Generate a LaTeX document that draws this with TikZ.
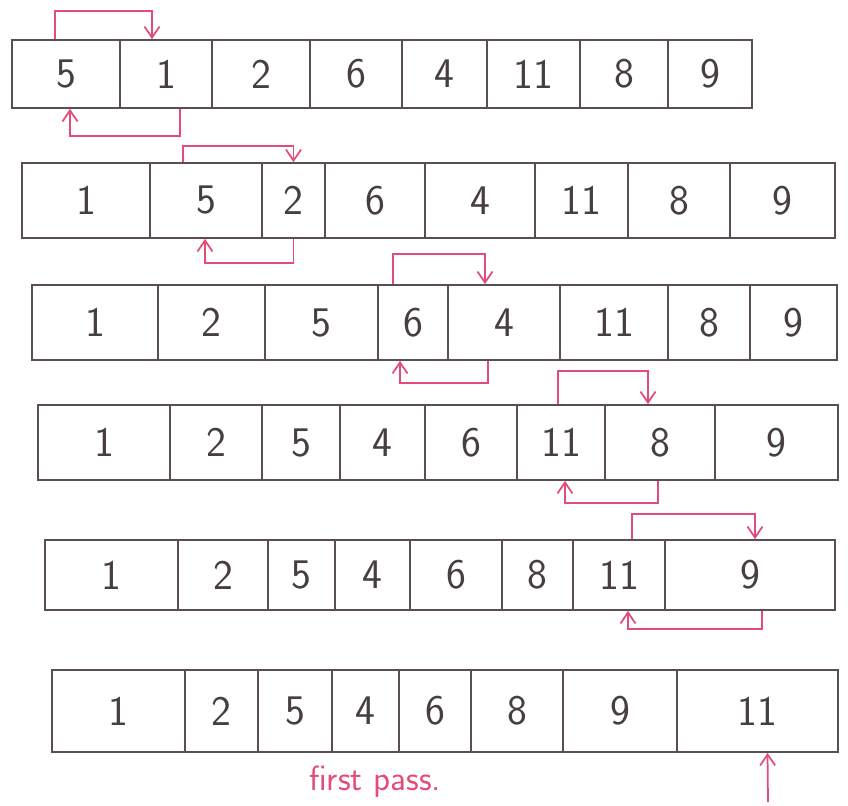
\documentclass[tikz,border=0pt]{standalone}
\usetikzlibrary{arrows.meta, calc}
\definecolor{ink}{RGB}{88,78,84}
\definecolor{pen}{RGB}{228,76,120}

\begin{document}
\begin{tikzpicture}[x=0.02cm, y=-0.02cm, font=\sffamily\fontsize{24}{28}\selectfont,
  cell/.style={draw=ink, line width=1pt, inner sep=0pt, text=ink!80!black},
  swp/.style={draw=pen, line width=1pt, -{Straight Barb[length=2.2mm, width=3mm]}}]

\useasboundingbox (0,0) rectangle (848,805);

% row 1 : 5 1 2 6 4 11 8 9
\foreach \xa/\xb/\v [count=\i] in {12/120/5, 120/212/1, 212/310/2, 310/402/6, 402/487/4, 487/580/11, 580/668/8, 668/752/9}
  \node[cell, minimum width={(\xb-\xa)*0.02cm}, minimum height=1.36cm] (r1c\i) at ({(\xa+\xb)/2},74) {\v};

% row 2 : 1 5 2 6 4 11 8 9
\foreach \xa/\xb/\v [count=\i] in {22/150/1, 150/262/5, 262/325/2, 325/425/6, 425/535/4, 535/628/11, 628/730/8, 730/835/9}
  \node[cell, minimum width={(\xb-\xa)*0.02cm}, minimum height=1.5cm] (r2c\i) at ({(\xa+\xb)/2},200.5) {\v};

% row 3 : 1 2 5 6 4 11 8 9
\foreach \xa/\xb/\v [count=\i] in {32/158/1, 158/265/2, 265/378/5, 378/448/6, 448/560/4, 560/668/11, 668/750/8, 750/837/9}
  \node[cell, minimum width={(\xb-\xa)*0.02cm}, minimum height=1.5cm] (r3c\i) at ({(\xa+\xb)/2},322.5) {\v};

% row 4 : 1 2 5 4 6 11 8 9
\foreach \xa/\xb/\v [count=\i] in {38/170/1, 170/262/2, 262/340/5, 340/425/4, 425/517/6, 517/605/11, 605/715/8, 715/838/9}
  \node[cell, minimum width={(\xb-\xa)*0.02cm}, minimum height=1.5cm] (r4c\i) at ({(\xa+\xb)/2},442.5) {\v};

% row 5 : 1 2 5 4 6 8 11 9
\foreach \xa/\xb/\v [count=\i] in {45/178/1, 178/268/2, 268/335/5, 335/410/4, 410/502/6, 502/573/8, 573/665/11, 665/835/9}
  \node[cell, minimum width={(\xb-\xa)*0.02cm}, minimum height=1.4cm] (r5c\i) at ({(\xa+\xb)/2},575) {\v};

% row 6 : 1 2 5 4 6 8 9 11
\foreach \xa/\xb/\v [count=\i] in {52/185/1, 185/258/2, 258/332/5, 332/399/4, 399/471/6, 471/563/8, 563/677/9, 677/838/11}
  \node[cell, minimum width={(\xb-\xa)*0.02cm}, minimum height=1.64cm] (r6c\i) at ({(\xa+\xb)/2},711) {\v};

% swaps
\draw[swp] ([shift={(-11,0)}]r1c1.north) -- ++(0,-28) -| ([shift={(-14,0)}]r1c2.north);
\draw[swp] ([shift={(14,0)}]r1c2.south) -- ++(0,27) -| ([shift={(4,0)}]r1c1.south);

\draw[swp] ([shift={(-23,0)}]r2c2.north) -- ++(0,-16) -| (r2c3.north);
\draw[swp] (r2c3.south) -- ++(0,24) -| ([shift={(-1,0)}]r2c2.south);

\draw[swp] ([shift={(-20,0)}]r3c4.north) -- ++(0,-30) -| ([shift={(-19,0)}]r3c5.north);
\draw[swp] ([shift={(-16,0)}]r3c5.south) -- ++(0,22) -| ([shift={(-13,0)}]r3c4.south);

\draw[swp] ([shift={(-3,0)}]r4c6.north) -- ++(0,-33) -| ([shift={(-12,0)}]r4c7.north);
\draw[swp] ([shift={(-2,0)}]r4c7.south) -- ++(0,22) -| ([shift={(4,0)}]r4c6.south);

\draw[swp] ([shift={(13,0)}]r5c7.north) -- ++(0,-25) -| ([shift={(5,0)}]r5c8.north);
\draw[swp] ([shift={(12,0)}]r5c8.south) -- ++(0,18) -| ([shift={(9,0)}]r5c7.south);

% last element in place
\coordinate (pass) at (768,802);
\draw[swp] (pass) -- ([shift={(10,0)}]r6c8.south);
\node[text=pen, font=\sffamily\fontsize{20}{24}\selectfont] (lbl) at (375,782) {first pass.};
\end{tikzpicture}
\end{document}
